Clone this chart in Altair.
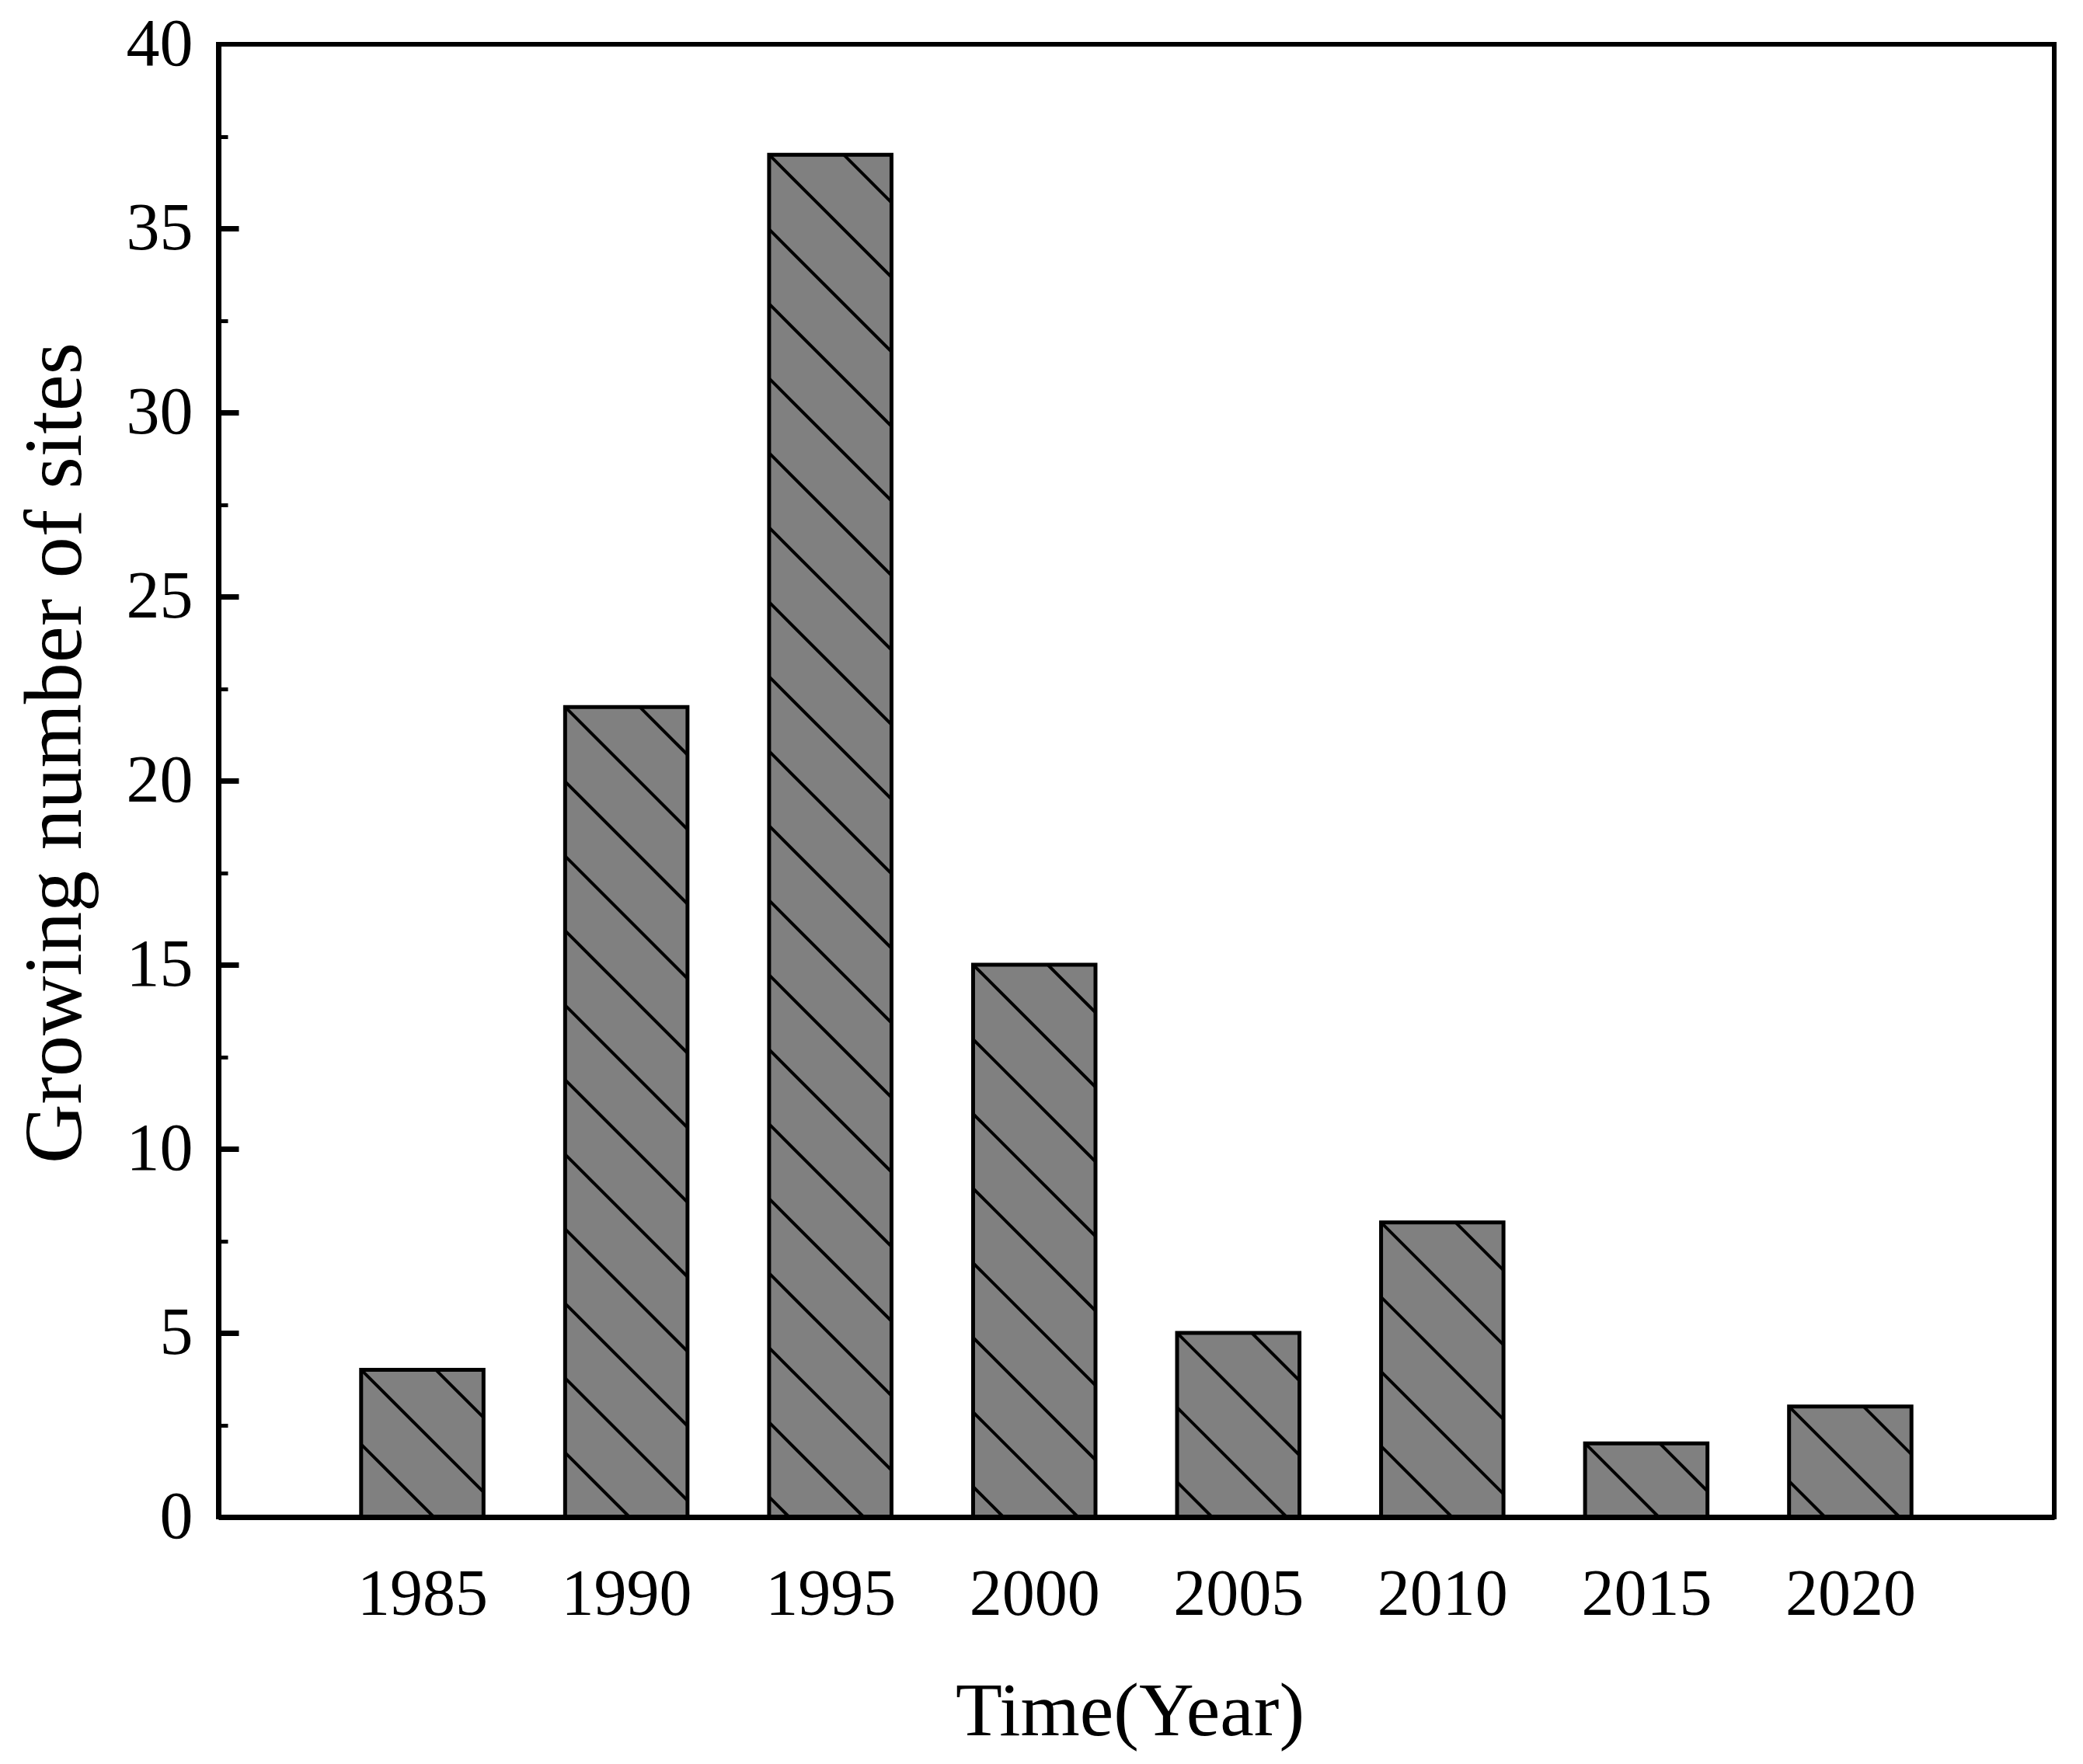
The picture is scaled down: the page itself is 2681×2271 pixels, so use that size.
import altair as alt
import pandas as pd
import numpy as np

# ---- data ----
years = [1985, 1990, 1995, 2000, 2005, 2010, 2015, 2020]
counts = [4, 22, 37, 15, 5, 8, 2, 3]
y_major = [0, 5, 10, 15, 20, 25, 30, 35, 40]
y_major_ticks = [5, 10, 15, 20, 25, 30, 35]
y_minor_ticks = [2.5, 7.5, 12.5, 17.5, 22.5, 27.5, 32.5, 37.5]

# ---- layout / style ----
W, H = 2363, 1896
X_DOMAIN = [1980, 2025]
Y_DOMAIN = [0, 40]
BAR_HALF = 1.5          # bar half width in years
HATCH_GAP = 96          # vertical pixel distance between hatch lines
SERIF = "Liberation Serif"

px_x = W / (X_DOMAIN[1] - X_DOMAIN[0])
px_y = H / (Y_DOMAIN[1] - Y_DOMAIN[0])

bars = pd.DataFrame({"year": years, "count": counts})

# hatch segments (45 deg, anchored at each bar's top-left corner)
rows = []
for yr, v in zip(years, counts):
    w = 2 * BAR_HALF * px_x
    h = v * px_y
    k_min = int(np.floor(-w / HATCH_GAP))
    k_max = int(np.ceil(h / HATCH_GAP))
    for k in range(k_min, k_max + 1):
        c = k * HATCH_GAP
        xs = max(0.0, -c)
        xe = min(w, h - c)
        if xe - xs <= 1:
            continue
        rows.append(dict(
            x=yr - BAR_HALF + xs / px_x, y=v - (xs + c) / px_y,
            x2=yr - BAR_HALF + xe / px_x, y2=v - (xe + c) / px_y))
hatch = pd.DataFrame(rows)

xscale = alt.Scale(domain=X_DOMAIN, nice=False, zero=False)
yscale = alt.Scale(domain=Y_DOMAIN, nice=False, zero=True)

x_axis = alt.Axis(
    values=years, format="d", ticks=False, tickSize=0, grid=False,
    domainColor="black", domainWidth=7, labelFont=SERIF, labelFontSize=84,
    labelColor="black", labelBaseline="alphabetic", labelPadding=125,
    labelFlush=False, labelOverlap=False,
    title="Time(Year)", titleFont=SERIF, titleFontSize=98, titleFontWeight="normal",
    titleColor="black", titleBaseline="alphabetic", titleAlign="center",
    titleX=1173, titleY=280, zindex=2,
)
y_axis = alt.Axis(
    orient="left", values=y_major, ticks=False, tickSize=0, grid=False,
    domainColor="black", domainWidth=7, labelFont=SERIF, labelFontSize=86,
    labelColor="black", labelPadding=33, labelFlush=False, labelOverlap=False,
    title="Growing number of sites", titleFont=SERIF, titleFontSize=106,
    titleFontWeight="normal", titleColor="black", titleAngle=270,
    titleBaseline="alphabetic", titleAlign="center", titleX=-178, titleY=912,
    zindex=2,
)
y_axis_major_ticks = alt.Axis(
    orient="left", values=y_major_ticks, domain=False, labels=False, grid=False,
    ticks=True, tickSize=26, tickWidth=7, tickColor="black", offset=-26,
    title=None, zindex=2,
)
y_axis_minor_ticks = alt.Axis(
    orient="left", values=y_minor_ticks, domain=False, labels=False, grid=False,
    ticks=True, tickSize=12, tickWidth=5, tickColor="black", offset=-12,
    title=None, zindex=2,
)

base = alt.Chart(bars).transform_calculate(
    x0=f"datum.year - {BAR_HALF}", x1=f"datum.year + {BAR_HALF}"
)

fill = base.mark_rect(fill="#808080", stroke=None).encode(
    x=alt.X("x0:Q", scale=xscale, axis=x_axis),
    x2="x1:Q",
    y=alt.Y("count:Q", scale=yscale, axis=y_axis),
    y2=alt.datum(0),
)

lines = alt.Chart(hatch).mark_rule(color="black", strokeWidth=4).encode(
    x=alt.X("x:Q", scale=xscale, axis=x_axis),
    x2="x2:Q",
    y=alt.Y("y:Q", scale=yscale, axis=y_axis_major_ticks),
    y2="y2:Q",
)

outline = base.mark_rect(fillOpacity=0, stroke="black", strokeWidth=5).encode(
    x=alt.X("x0:Q", scale=xscale, axis=x_axis),
    x2="x1:Q",
    y=alt.Y("count:Q", scale=yscale, axis=y_axis_minor_ticks),
    y2=alt.datum(0),
)

chart = alt.layer(fill, lines, outline).resolve_axis(y="independent").properties(
    width=W, height=H,
    autosize=alt.AutoSizeParams(type="none"),
    padding={"left": 273, "top": 49, "right": 20, "bottom": 305},
    background="white",
).configure_view(stroke="black", strokeWidth=6)

chart.save("out.html", embed_options={"renderer": "svg", "actions": False})
